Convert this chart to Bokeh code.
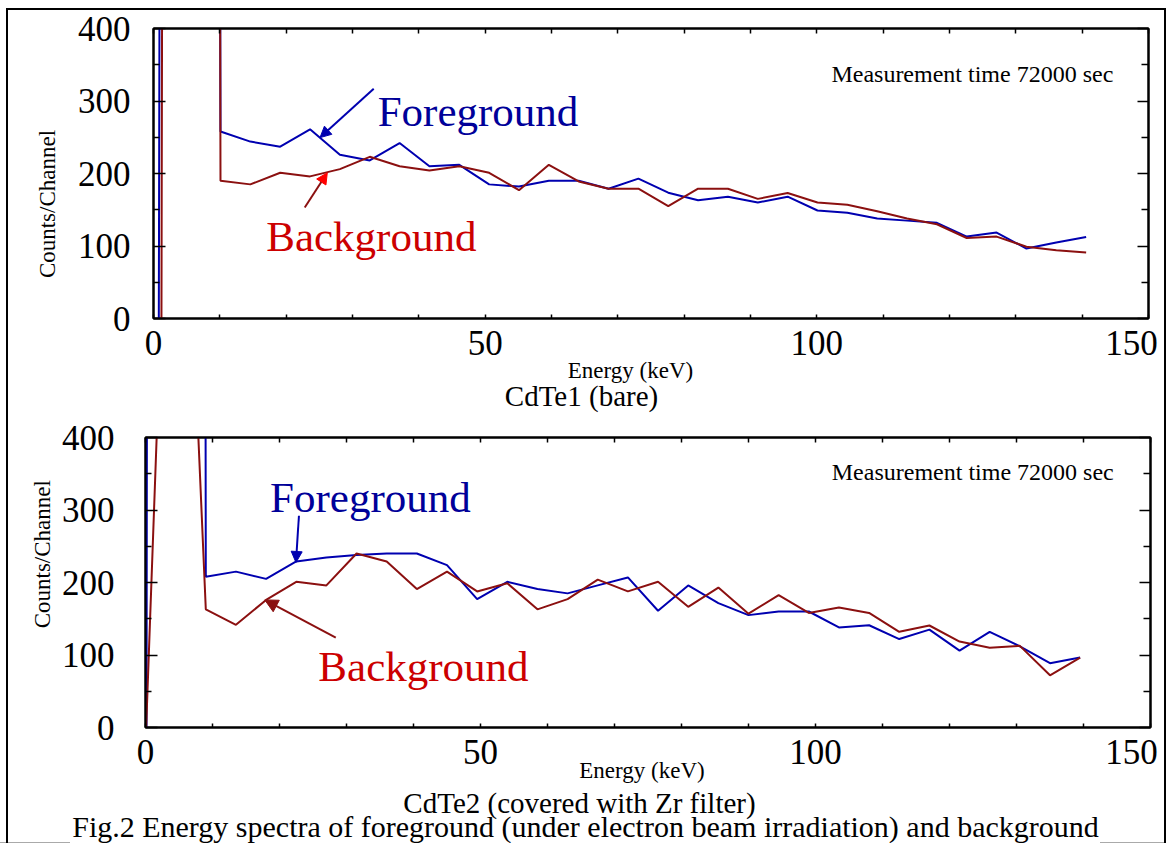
import math
from bokeh.plotting import figure
from bokeh.models import Range1d, LinearAxis, FixedTicker, Label, Arrow, NormalHead, Grid
from bokeh.layouts import column
from bokeh.embed import file_html
from bokeh.resources import INLINE

FONT = "Liberation Serif"
BLUE = "#0000B0"
RED = "#8B1010"
FG_TEXT = "#000099"
BG_TEXT = "#CC0000"

# ---- axis ticks ----
X_MAJOR = [0, 50, 100, 150]
X_MINOR = [10, 20, 30, 40, 60, 70, 80, 90, 110, 120, 130, 140]
Y_MAJOR = [0, 100, 200, 300, 400]
Y_MINOR = [50, 150, 250, 350]
X_LABELS = {150: "150\u00a0"}

# ---- CdTe1 (bare) ----
e1_fg = [0.8, 5.6, 10.1, 14.6, 19.1, 23.6, 28.1, 32.6, 37.1, 41.6, 46.1, 50.6, 55.1,
         59.6, 64.1, 68.6, 73.1, 77.6, 82.1, 86.6, 91.1, 95.6, 100.1, 104.6, 109.1,
         113.6, 118.1, 122.6, 127.1, 131.6, 136.1, 140.6]
fg1 = [0, 20000, 258, 244, 237, 261, 226, 218, 242, 210, 212, 185, 182, 190, 190, 179,
       193, 173.5, 163, 168, 160, 168, 149, 146, 138, 135, 132, 113, 118.5, 96.5, 104.7, 112.5]
e1_bg = [1.2, 5.6, 10.1, 14.6, 19.1, 23.6, 28.1, 32.6, 37.1, 41.6, 46.1, 50.6, 55.1,
         59.6, 64.1, 68.6, 73.1, 77.6, 82.1, 86.6, 91.1, 95.6, 100.1, 104.6, 109.1,
         113.6, 118.1, 122.6, 127.1, 131.6, 136.1, 140.6]
bg1 = [0, 20000, 190, 185, 201, 196, 206, 223, 210, 204, 210, 201, 177, 212, 189, 179,
       179, 155, 179, 179, 165, 173, 160, 157, 148, 138, 130, 111, 113, 99, 94, 91]

# ---- CdTe2 (covered with Zr filter) ----
e2_fg = [0.15, 4.5, 9.0, 13.5, 18.0, 22.5, 27.0, 31.5, 36.0, 40.5, 45.0, 49.5, 54.0,
         58.5, 63.0, 67.5, 72.0, 76.5, 81.0, 85.5, 90.0, 94.5, 99.0, 103.5, 108.0,
         112.5, 117.0, 121.5, 126.0, 130.5, 135.0, 139.5]
fg2 = [0, 30000, 208, 215, 205, 229, 234.6, 238, 240, 240, 224, 177, 201, 191, 185, 196,
       207, 161, 196, 171.6, 155, 160, 160, 138, 141, 122, 135, 106, 132, 112, 88.7, 96.5]
e2_bg = [0.1, 4.5, 9.0, 13.5, 18.0, 22.5, 27.0, 31.5, 36.0, 40.5, 45.0, 49.5, 54.0,
         58.5, 63.0, 67.5, 72.0, 76.5, 81.0, 85.5, 90.0, 94.5, 99.0, 103.5, 108.0,
         112.5, 117.0, 121.5, 126.0, 130.5, 135.0, 139.5]
bg2 = [0, 1125, 163, 141.6, 176, 201, 196, 240, 229, 191, 215, 187.7, 199, 163, 177, 204,
       187.7, 201, 166.5, 193, 157, 182.6, 158, 165.6, 158, 132, 140.7, 118.6, 110, 112.6, 72, 96.5]

MEAS = "Measurement time  72000 sec"
YLABEL = "Counts/Channel"
XLABEL = "Energy (keV)"
CAPTION1 = "CdTe1 (bare)"
CAPTION2 = "CdTe2 (covered with Zr filter)"
FIGCAP = "Fig.2 Energy spectra of foreground (under electron beam irradiation) and background"

PAGE_W, PAGE_H = 1166, 843


def axis(loc, labels, tick_major, tick_minor, standoff=0):
    horiz = loc in ("below", "above")
    t = FixedTicker(ticks=(X_MAJOR if horiz else Y_MAJOR),
                    minor_ticks=(X_MINOR if horiz else Y_MINOR))
    a = LinearAxis(ticker=t)
    a.axis_line_color = "black"
    a.axis_line_width = 2
    a.major_tick_line_color = "black"
    a.minor_tick_line_color = "black"
    a.major_tick_line_width = 1.5
    a.minor_tick_line_width = 1.5
    a.major_tick_in = tick_major
    a.minor_tick_in = tick_minor
    a.major_tick_out = 0
    a.minor_tick_out = 0
    if labels:
        a.major_label_text_font = FONT
        a.major_label_text_font_size = "35px"
        a.major_label_text_color = "black"
        a.major_label_standoff = standoff
        if horiz:
            a.major_label_overrides = X_LABELS
    else:
        a.major_label_text_font_size = "1px"
        a.major_label_text_alpha = 0
        a.major_label_standoff = 0
    return a


def lbl(p, x, y, text, size, color="black", align="left", baseline="alphabetic", angle=0.0):
    p.add_layout(Label(x=x, y=y, text=text, text_font=FONT, text_font_size=size,
                       text_color=color, text_align=align, text_baseline=baseline,
                       angle=angle))


def arrow(p, xs, ys, xe, ye, line_color, head_color, size=11):
    p.add_layout(Arrow(end=NormalHead(size=size, fill_color=head_color, line_color=head_color),
                       x_start=xs, y_start=ys, x_end=xe, y_end=ye,
                       line_color=line_color, line_width=2))


def no_grid(p):
    for g in list(p.center):
        if isinstance(g, Grid):
            g.visible = False


def panel(width, height, borders, ystandoff, e_fg, fg, e_bg, bg):
    p = figure(width=width, height=height, output_backend="svg", toolbar_location=None,
               x_range=Range1d(0, 150), y_range=Range1d(0, 400),
               x_axis_location=None, y_axis_location=None, frame_align=False,
               min_border_left=borders[0], min_border_right=borders[1],
               min_border_top=borders[2], min_border_bottom=borders[3])
    no_grid(p)
    p.border_fill_color = None
    p.background_fill_color = "white"
    p.outline_line_color = "black"
    p.outline_line_width = 2
    p.add_layout(axis("below", True, 4, 4, 5), "below")
    p.add_layout(axis("left", True, 12, 6, ystandoff), "left")
    p.add_layout(axis("above", False, 5, 5), "above")
    p.add_layout(axis("right", False, 11, 7), "right")
    p.line(e_fg, fg, line_color=BLUE, line_width=2)
    p.line(e_bg, bg, line_color=RED, line_width=2)
    return p


# top panel
p1 = panel(PAGE_W, 418, (153, 18, 28, 100), 23, e1_fg, fg1, e1_bg, bg1)
lbl(p1, 145.6, 337, MEAS, "24px", align="right")
lbl(p1, 33.8, 285.5, "Foreground", "43px", FG_TEXT)
lbl(p1, 17.0, 113.5, "Background", "43px", BG_TEXT)
arrow(p1, 33.2, 316.8, 25.1, 249.5, BLUE, BLUE)
arrow(p1, 22.8, 153, 26.2, 201, RED, "#FF0000")

# bottom panel
p2 = panel(PAGE_W, PAGE_H - 418, (145, 16, 19, 116), 31, e2_fg, fg2, e2_bg, bg2)
lbl(p2, 145.4, 353, MEAS, "24px", align="right")
lbl(p2, 18.6, 317.6, "Foreground", "43px", FG_TEXT)
lbl(p2, 25.8, 83.8, "Background", "43px", BG_TEXT)
arrow(p2, 22.9, 292, 22.46, 227.6, BLUE, BLUE)
arrow(p2, 28.4, 124, 17.8, 176, RED, RED, 13)

# transparent text layer over the whole page (page pixel coordinates, y down)
t = figure(width=PAGE_W, height=PAGE_H, output_backend="svg", toolbar_location=None,
           x_range=Range1d(0, PAGE_W), y_range=Range1d(PAGE_H, 0),
           x_axis_location=None, y_axis_location=None, frame_align=False,
           min_border=0, margin=(-PAGE_H, 0, 0, 0))
no_grid(t)
t.outline_line_color = None
t.border_fill_color = None
t.background_fill_color = None
lbl(t, 46.6, 203.5, YLABEL, "23px", align="center", baseline="middle", angle=math.pi / 2)
lbl(t, 630, 369.5, XLABEL, "23px", align="center")
lbl(t, 581, 395.5, CAPTION1, "29px", align="center")
lbl(t, 42, 553.7, YLABEL, "23px", align="center", baseline="middle", angle=math.pi / 2)
lbl(t, 641.5, 769.5, XLABEL, "23px", align="center")
lbl(t, 579, 802.5, CAPTION2, "29px", align="center")
lbl(t, 585, 826.2, FIGCAP, "30px", align="center")

BORDER = ("linear-gradient(#000,#000) 6px 8px / 2px 100% no-repeat, "
          "linear-gradient(#000,#000) 6px 8px / 1160px 2px no-repeat, "
          "linear-gradient(#000,#000) 1164px 8px / 2px 100% no-repeat, "
          "linear-gradient(#aaa,#aaa) 0px 842px / 70px 1px no-repeat, "
          "linear-gradient(#aaa,#aaa) 1100px 842px / 66px 1px no-repeat")
layout = column(p1, p2, t, spacing=0, styles={"background": BORDER})

open("out.html", "w").write(file_html(layout, INLINE))
